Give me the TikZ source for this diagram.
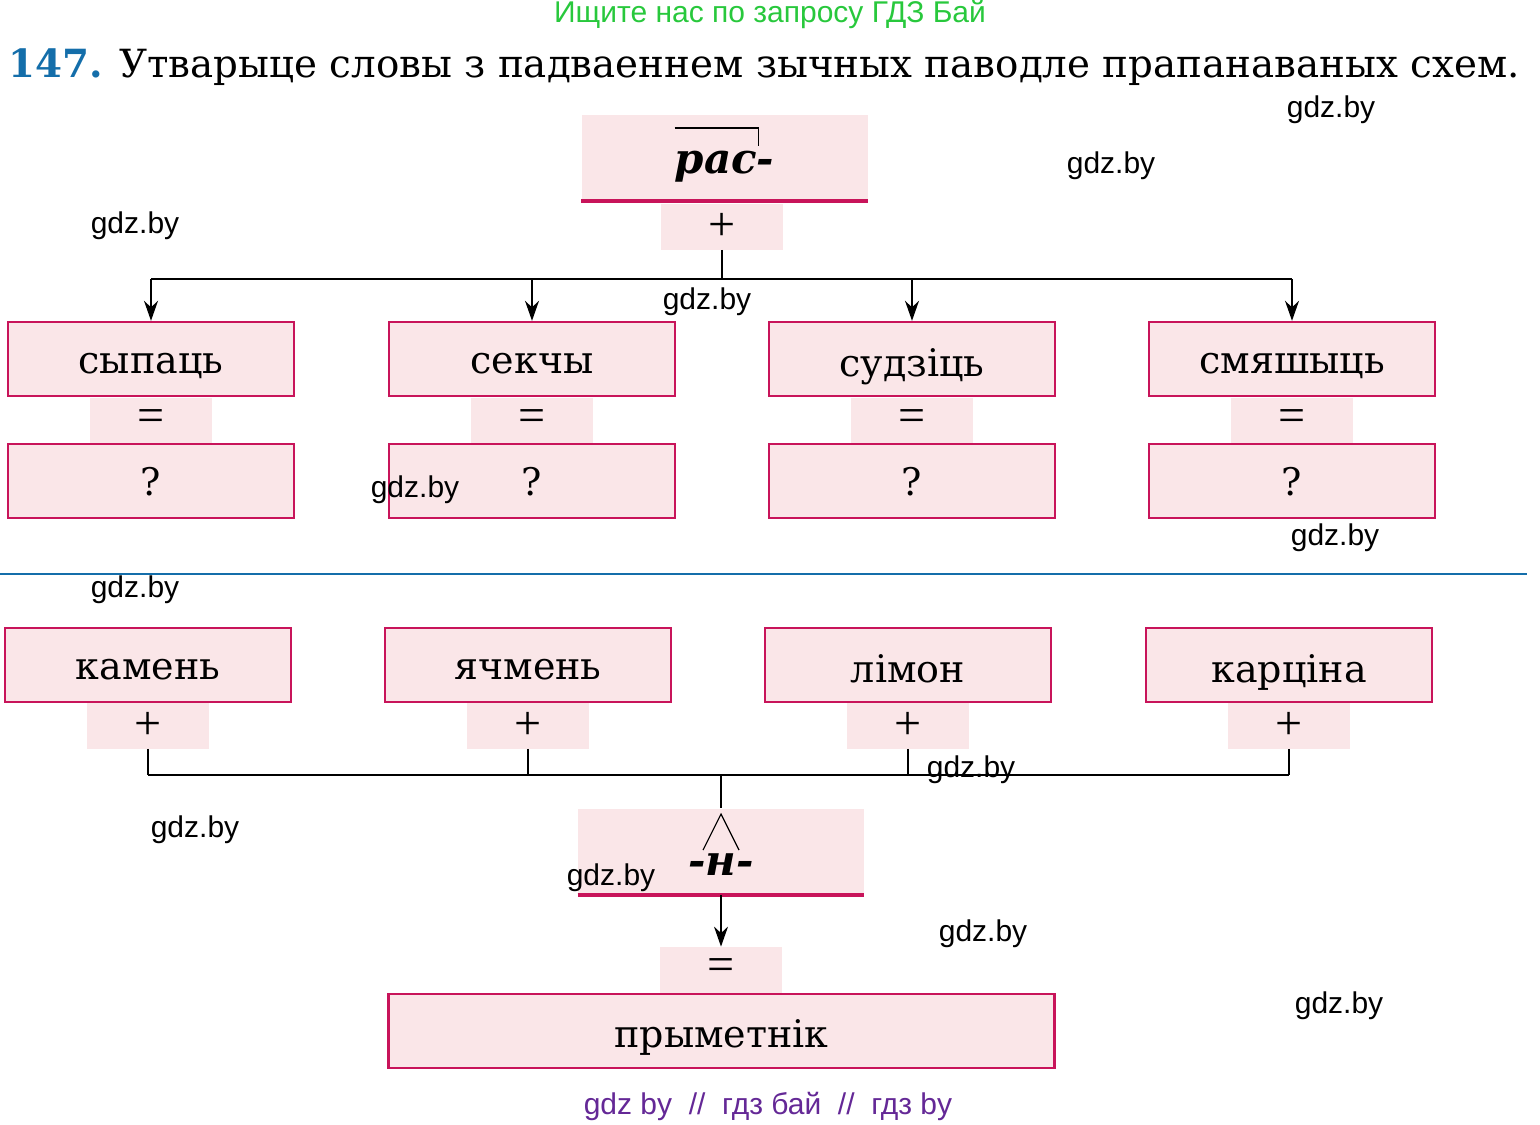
\documentclass[tikz,border=0pt]{standalone}
\usepackage{fontspec}
\setmainfont{DejaVu Serif}
\newfontfamily\wmfont{Liberation Sans}
\newfontfamily\signfont{Liberation Serif}
\usetikzlibrary{arrows.meta,positioning}
\definecolor{boxpink}{RGB}{250,230,232}
\definecolor{boxline}{RGB}{200,20,90}
\definecolor{numblue}{RGB}{20,110,170}
\definecolor{wmgreen}{RGB}{40,200,60}
\definecolor{wmviolet}{RGB}{100,40,150}
\tikzset{
  word/.style={draw=boxline,line width=1.2pt,fill=boxpink,minimum width=143pt,minimum height=37pt,inner sep=0pt,text depth=0pt,font=\fontsize{19}{19}\selectfont},
  sign/.style={fill=boxpink,minimum width=61pt,minimum height=23pt,inner sep=0pt,font=\signfont\fontsize{24}{24}\selectfont},
  morph/.style={fill=boxpink,minimum width=143pt,minimum height=43pt,inner sep=0pt,font=\fontsize{21}{21}\selectfont\bfseries\itshape},
  wm/.style={font=\wmfont\fontsize{15}{15}\selectfont},
  conn/.style={line width=0.8pt},
  arr/.style={conn,-{Stealth[length=10pt,width=7pt]}}
}
\begin{document}
\begin{tikzpicture}[x=0.5pt,y=-0.5pt]
\useasboundingbox (0,0) rectangle (1540,1124);

% header and title
\node[wm,text=wmgreen] (hdr) at (770,14) {Ищите нас по запросу ГДЗ Бай};
\node[anchor=base west,inner sep=0pt,font=\fontsize{19.4}{20}\selectfont] (title) at (8,77)
  {\textcolor{numblue}{\bfseries 147.} Утварыце словы з падваеннем зычных паводле прапанаваных схем.};

% upper scheme
\node[morph,text depth=0pt] (ras) at (724.5,157.5) {\raisebox{-5pt}{рас-}};
\draw[boxline,line width=2.4pt] (ras.south west) -- (ras.south east);
\draw[line width=0.8pt] ([xshift=-25pt,yshift=-7pt]ras.north) -- ([xshift=17pt,yshift=-7pt]ras.north) -- ([xshift=17pt,yshift=-16pt]ras.north);
\node[sign] (plus0) at (722,226.5) {+};
\coordinate (split) at (722,279);

\foreach \n/\x/\w in {1/151/сыпаць,2/532/секчы,3/912/судзіць,4/1292/смяшыць}{
  \node[word] (w\n) at (\x,359) {\raisebox{-4pt}{\w}};
  \node[sign] (eq\n) at (\x,420.5) {=};
  \node[word] (q\n) at (\x,481) {?};
  \draw[arr] (split -| w\n) -- (w\n.north);
}
\draw[conn] (plus0.south) -- (split);
\draw[conn] (split -| w1) -- (split -| w4);

% separator
\draw[numblue,line width=0.8pt] (0,574) -- (1527,574);

% lower scheme
\coordinate (join) at (721,775);
\foreach \n/\x/\w in {1/148/камень,2/528/ячмень,3/908/лімон,4/1289/карціна}{
  \node[word] (s\n) at (\x,665) {\raisebox{-4pt}{\w}};
  \node[sign] (p\n) at (\x,725.5) {+};
  \draw[conn] (p\n.south) -- (join -| p\n);
}
\draw[conn] (join -| p1) -- (join -| p4);
\node[morph,text depth=0pt] (en) at (721,851.5) {\raisebox{-12pt}{-н-}};
\draw[boxline,line width=2.4pt] (en.south west) -- (en.south east);
\draw[conn] (join) -- (en.north);
\draw[line width=0.6pt] ([xshift=-9pt,yshift=-21pt]en.north) -- ([yshift=-3pt]en.north) -- ([xshift=9pt,yshift=-21pt]en.north);
\node[sign] (eq0) at (721,970) {=};
\node[word,minimum width=333pt] (adj) at (721.5,1031) {\raisebox{-3pt}{прыметнік}};
\draw[arr] (en.south) -- (eq0.north);

% watermarks
\foreach \x/\y [count=\i] in {1331/110,1111/166,135/226,707/302,415/490,1335/538,135/590,971/770,195/830,611/878,983/934,1339/1006}
  \node[wm] (wm\i) at (\x,\y) {gdz.by};
\node[wm,text=wmviolet] (ftr) at (768,1106) {gdz by \ // \ гдз бай \ // \ гдз by};
\end{tikzpicture}
\end{document}
